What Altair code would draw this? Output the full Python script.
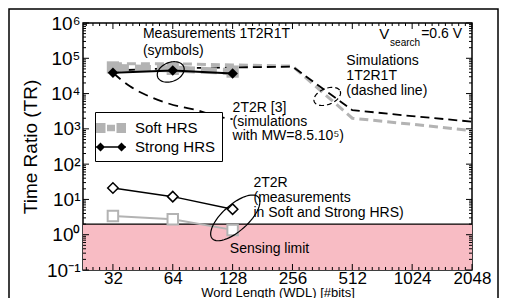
import math
import altair as alt
import pandas as pd

FONT = "Liberation Sans"
W, H = 389, 247

# ---------------- data ----------------
wdl_meas = [32, 64, 128]
soft_1t2r1t = [5.5e4, 5.0e4, 4.2e4]      # grey squares (Soft HRS)
strong_1t2r1t = [3.9e4, 4.5e4, 3.7e4]    # black diamonds (Strong HRS)
strong_2t2r = [21, 12, 5.3]              # open diamonds
soft_2t2r = [3.4, 2.75, 1.37]            # open grey squares

wdl_sim = [32, 64, 128, 256, 512, 1024, 2048]
sim_soft = [7.0e4, 7.0e4, 6.5e4, 6.0e4, 2.0e3, 1.35e3, 890]
sim_strong = [4.5e4, 5.2e4, 5.5e4, 5.8e4, 3.4e3, 2.3e3, 1.6e3]

wdl_2t2r_sim = [32, 39, 47, 57, 69, 84, 101, 119, 128]
tr_2t2r_sim = [3.9e4, 1.6e4, 9.1e3, 5.9e3, 4.3e3, 3.45e3, 2.5e3, 2.0e3, 1.9e3]

sensing_limit = 2.0
x_domain = [16 * math.sqrt(2), 2048]
y_domain = [0.1, 1e6]

x_major = [32, 64, 128, 256, 512, 1024, 2048]
y_major = [0.1, 1, 10, 100, 1e3, 1e4, 1e5, 1e6]

legend_series = ["Soft HRS", "Strong HRS"]

ann_text = ["Measurements 1T2R1T", "(symbols)",
            "Simulations", "1T2R1T", "(dashed line)",
            "2T2R [3]", "(simulations", "with MW=8.5.10\u2075)",
            "2T2R", "(measurements", "in Soft and Strong HRS)",
            "Sensing limit"]
ann_x = [45.3, 45.3, 478, 478, 478, 128, 128, 128, 163, 163, 163, 124]
ann_y = [4.8e5, 1.65e5, 8.4e4, 3.2e4, 1.2e4, 3.9e3, 1.6e3, 630, 29.5, 11, 4.2, 0.4]

# ellipses: centre x, centre y, semi-axes (px), rotation (deg)
ell_x = [62.5, 132, 383]
ell_y = [4.1e4, 3.0, 8.3e3]
ell_a = [14, 31, 14]
ell_b = [9.5, 13, 8]
ell_rot = [-22, -42, -22]
ell_dashed = [False, False, True]

# ---------------- helpers ----------------
def ellipse_path(a, b, deg, n=60):
    t = math.radians(deg)
    pts = []
    for i in range(n):
        u = 2 * math.pi * i / n
        x, y = a * math.cos(u), b * math.sin(u)
        pts.append((x * math.cos(t) - y * math.sin(t), x * math.sin(t) + y * math.cos(t)))
    return "M" + "L".join(f"{x:.2f},{y:.2f}" for x, y in pts) + "Z"

xs = alt.Scale(type="log", base=2, domain=x_domain, nice=False)
ys = alt.Scale(type="log", domain=y_domain, nice=False)

x_axis = alt.Axis(values=x_major, ticks=False, domain=False, grid=False,
                  labelFontSize=17, labelPadding=0, labelFont=FONT, labelColor="black",
                  labelFlush=False, labelOverlap=False, labelBound=False,
                  title="Word Length (WDL) [#bits]", titleFontSize=13, titleFont=FONT,
                  titleFontWeight="normal", titleColor="black",
                  titleBaseline="alphabetic", titleY=26,
                  labelExpr="format(datum.value, 'd')")
sup = ("datum.value < 0.5 ? '10\u207b\u00b9' : datum.value < 5 ? '10\u2070' : "
       "datum.value < 50 ? '10\u00b9' : datum.value < 500 ? '10\u00b2' : "
       "datum.value < 5000 ? '10\u00b3' : datum.value < 50000 ? '10\u2074' : "
       "datum.value < 500000 ? '10\u2075' : '10\u2076'")
y_axis = alt.Axis(values=y_major, ticks=False, domain=False, grid=False,
                  labelFontSize=19, labelPadding=3, labelFont=FONT, labelColor="black",
                  labelOverlap=False, labelBound=False, labelFlush=False,
                  labelExpr=sup, title="Time Ratio (TR)", titleFontSize=19, titleFont=FONT,
                  titleFontWeight="normal", titleColor="black", titlePadding=6)

def X(field="x"):
    return alt.X(f"{field}:Q", scale=xs, axis=x_axis)

def Y(field="y"):
    return alt.Y(f"{field}:Q", scale=ys, axis=y_axis)

# ---------------- layers ----------------
sense_df = pd.DataFrame({"x": [x_domain[0]], "x2": [x_domain[1]],
                         "y": [y_domain[0]], "y2": [sensing_limit]})
sense = alt.Chart(sense_df).mark_rect(color="#f8bcc4").encode(
    x=X("x"), x2="x2:Q", y=Y("y"), y2="y2:Q")
sense_line = alt.Chart(sense_df).mark_rule(color="black", strokeWidth=1.3).encode(
    y=Y("y2"), x=alt.value(0), x2=alt.value(W))

def line_df(xv, yv):
    return pd.DataFrame({"x": xv, "y": yv})

sim_grey = alt.Chart(line_df(wdl_sim, sim_soft)).mark_line(
    color="#b3b3b3", strokeWidth=3, strokeDash=[9, 5]).encode(x=X(), y=Y())
sim_black = alt.Chart(line_df(wdl_sim, sim_strong)).mark_line(
    color="black", strokeWidth=1.8, strokeDash=[9, 5]).encode(x=X(), y=Y())
sim_2t2r = alt.Chart(line_df(wdl_2t2r_sim, tr_2t2r_sim)).mark_line(
    color="black", strokeWidth=1.8, strokeDash=[10, 6], interpolate="monotone").encode(x=X(), y=Y())

soft1 = line_df(wdl_meas, soft_1t2r1t)
soft1_line = alt.Chart(soft1).mark_line(color="#b3b3b3", strokeWidth=7, strokeDash=[16, 6]).encode(x=X(), y=Y())
soft1_pts = alt.Chart(soft1).mark_point(shape="square", filled=True, color="#b3b3b3", size=150, opacity=1).encode(x=X(), y=Y())

strong1 = line_df(wdl_meas, strong_1t2r1t)
strong1_line = alt.Chart(strong1).mark_line(color="black", strokeWidth=2).encode(x=X(), y=Y())
strong1_pts = alt.Chart(strong1).mark_point(shape="diamond", filled=True, color="black", size=110, opacity=1).encode(x=X(), y=Y())

soft2 = line_df(wdl_meas, soft_2t2r)
soft2_line = alt.Chart(soft2).mark_line(color="#b3b3b3", strokeWidth=2).encode(x=X(), y=Y())
soft2_pts = alt.Chart(soft2).mark_point(shape="square", fill="white", stroke="#b3b3b3", strokeWidth=2,
                                        size=110, opacity=1, filled=True).encode(x=X(), y=Y())

strong2 = line_df(wdl_meas, strong_2t2r)
strong2_line = alt.Chart(strong2).mark_line(color="black", strokeWidth=1.5).encode(x=X(), y=Y())
strong2_pts = alt.Chart(strong2).mark_point(shape="diamond", fill="white", stroke="black", strokeWidth=1.5,
                                          size=110, opacity=1, filled=True).encode(x=X(), y=Y())

ellipses = []
for cx, cy, a, b, r, d in zip(ell_x, ell_y, ell_a, ell_b, ell_rot, ell_dashed):
    kw = dict(strokeDash=[5, 3]) if d else {}
    ellipses.append(alt.Chart(pd.DataFrame({"x": [cx], "y": [cy]})).mark_point(
        shape=ellipse_path(a, b, r), size=4, filled=False, stroke="black",
        strokeWidth=1.2, opacity=1, **kw).encode(x=X(), y=Y()))

ann = alt.Chart(pd.DataFrame({"x": ann_x, "y": ann_y, "t": ann_text})).mark_text(
    align="left", baseline="middle", font=FONT, fontSize=14, color="black").encode(
    x=X(), y=Y(), text="t:N")

vs_df = pd.DataFrame({"x": [699, 793, 1137], "y": [4.8e5, 2.8e5, 4.8e5],
                      "t": ["V", "search", "=0.6 V"], "s": [15, 10, 14]})
vsearch = alt.Chart(vs_df).mark_text(align="left", baseline="middle", font=FONT, color="black").encode(
    x=X(), y=Y(), text="t:N", size=alt.Size("s:Q", scale=None, legend=None))

# inward ticks on all four sides
y_minor = [k * 10 ** e for e in range(-1, 6) for k in range(2, 10)]
x_minor = [2 ** (n + j / 9) for n in range(4, 11) for j in range(1, 9)
           if x_domain[0] <= 2 ** (n + j / 9) <= x_domain[1]]
ytk_major = pd.DataFrame({"y": y_major})
ytk_minor = pd.DataFrame({"y": y_minor})
xtk_major = pd.DataFrame({"x": x_major})
xtk_minor = pd.DataFrame({"x": x_minor})
tick_kw = dict(color="black", strokeWidth=1)
t_left = alt.Chart(ytk_major).mark_rule(**tick_kw).encode(y=Y(), x=alt.value(0), x2=alt.value(6))
t_left_m = alt.Chart(ytk_minor).mark_rule(**tick_kw).encode(y=Y(), x=alt.value(0), x2=alt.value(3))
t_right = alt.Chart(ytk_major).mark_rule(**tick_kw).encode(y=Y(), x=alt.value(W - 6), x2=alt.value(W))
t_right_m = alt.Chart(ytk_minor).mark_rule(**tick_kw).encode(y=Y(), x=alt.value(W - 3), x2=alt.value(W))
t_bot = alt.Chart(xtk_major).mark_rule(**tick_kw).encode(x=X(), y=alt.value(H - 6), y2=alt.value(H))
t_bot_m = alt.Chart(xtk_minor).mark_rule(**tick_kw).encode(x=X(), y=alt.value(H - 3), y2=alt.value(H))
t_top = alt.Chart(xtk_major).mark_rule(**tick_kw).encode(x=X(), y=alt.value(0), y2=alt.value(6))
t_top_m = alt.Chart(xtk_minor).mark_rule(**tick_kw).encode(x=X(), y=alt.value(0), y2=alt.value(3))

# legend (symbols drawn by the legend; the data points themselves fall outside the domain)
soft_sym = ("M-1.5,-0.5H-0.55V0.5H-1.5Z M-0.4,-0.32H0.4V0.32H-0.4Z M0.55,-0.5H1.5V0.5H0.55Z")
strong_sym = ("M-1.5,-0.08H1.5V0.08H-1.5Z M-1.5,0L-1.05,-0.45L-0.6,0L-1.05,0.45Z "
              "M0.6,0L1.05,-0.45L1.5,0L1.05,0.45Z")
leg_df = pd.DataFrame({"x": [4, 4], "y": [1, 1], "series": legend_series})
leg_color = alt.Scale(domain=legend_series, range=["#b3b3b3", "black"])
leg_shape = alt.Scale(domain=legend_series, range=[soft_sym, strong_sym])
leg_def = alt.Legend(title=None, orient="none", legendX=12, legendY=89, padding=6,
                     strokeColor="black", fillColor="white", labelFont=FONT,
                     labelFontSize=15, labelColor="black", labelOffset=14,
                     symbolSize=400, rowPadding=1, symbolStrokeWidth=0)
legend_layer = alt.Chart(leg_df).mark_point(filled=True, size=400, opacity=1, clip=True).encode(
    x=X(), y=Y(),
    color=alt.Color("series:N", scale=leg_color, legend=leg_def),
    shape=alt.Shape("series:N", scale=leg_shape, legend=leg_def))

frame = alt.Chart(sense_df).mark_rect(fill=None, stroke="black", strokeWidth=1.5).encode(
    x=alt.value(-74), x2=alt.value(415), y=alt.value(-14), y2=alt.value(300))

chart = alt.layer(
    sense, sense_line,
    sim_grey, sim_black, sim_2t2r,
    soft2_line, soft2_pts, strong2_line, strong2_pts,
    soft1_line, soft1_pts, strong1_line, strong1_pts,
    *ellipses, ann, vsearch,
    t_left, t_left_m, t_right, t_right_m, t_bot, t_bot_m, t_top, t_top_m,
    legend_layer, frame,
).properties(
    width=W, height=H,
    background="white",
    autosize=alt.AutoSizeParams(type="none"),
    padding={"left": 75, "top": 15, "right": 31, "bottom": 28},
).configure_view(stroke="black", strokeWidth=1.5)

chart.save("out.html", embed_options={"renderer": "svg", "actions": False})
